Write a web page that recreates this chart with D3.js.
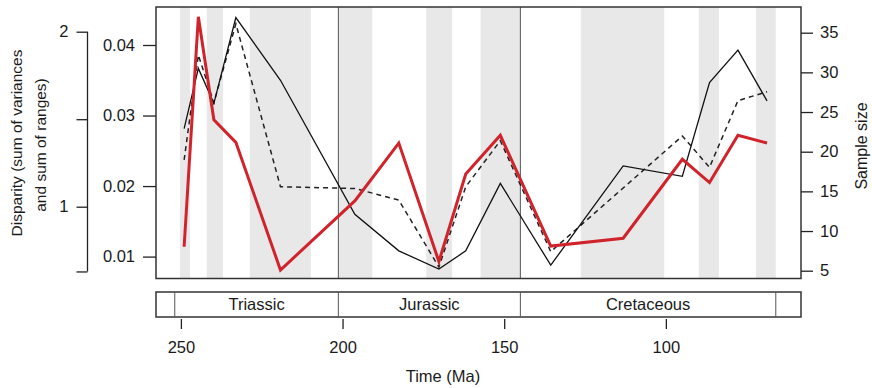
<!DOCTYPE html>
<html>
<head>
<meta charset="utf-8">
<script src="https://cdn.jsdelivr.net/npm/d3@7"></script>
<style>
  html, body { margin: 0; padding: 0; background: #fff; }
  svg text { font-family: "Liberation Sans", Arial, sans-serif; fill: #1a1a1a; }
</style>
</head>
<body>
<svg id="chart" width="872" height="388"></svg>
<script>
// ---- data ----
const ages = [249.0, 244.6, 239.8, 233.0, 219.2, 196.2, 182.6, 170.2, 161.9, 151.2, 135.6, 113.2, 94.9, 86.5, 77.7, 68.7];
const sumVariances = [0.0114, 0.0440, 0.0294, 0.0262, 0.0081, 0.0179, 0.0261, 0.0093, 0.0217, 0.0272, 0.0115, 0.0126, 0.0238, 0.0205, 0.0272, 0.0261];
const sumRanges = [1.267, 1.867, 1.593, 2.045, 1.114, 1.104, 1.038, 0.655, 1.114, 1.377, 0.743, 1.107, 1.404, 1.225, 1.606, 1.657];
const sampleSize = [22.9, 30.5, 26.1, 36.9, 29.0, 12.1, 7.5, 5.2, 7.5, 16.0, 5.7, 18.2, 16.9, 28.7, 32.8, 26.4];

const stageBands = [[250.3, 247.2], [242.0, 237.0], [228.7, 209.8], [201.3, 190.8], [174.1, 166.1], [157.3, 145.0], [126.3, 100.5], [89.8, 83.6], [72.1, 66.0]];
const periodBoundaries = [251.9, 201.3, 145.0, 66.0];
const periodNames = ["", "Triassic", "Jurassic", "Cretaceous", ""];
const periodLines = [201.3, 145.0];

const timeTicks = [250, 200, 150, 100];
const varianceTicks = [0.01, 0.02, 0.03, 0.04];
const rangeTicks = [0.63, 1, 1.5, 2];
const rangeTickLabels = ["", "1", "", "2"];
const sampleTicks = [5, 10, 15, 20, 25, 30, 35];

// ---- layout ----
const L = 156, R = 801, T = 7, B = 278.5;
const svg = d3.select("#chart");

const x = d3.scaleLinear().domain([257.7, 58.2]).range([L, R]);
const yVar = d3.scaleLinear().domain([0.01, 0.04]).range([256.6, 45]);
const yRange = d3.scaleLinear().domain([1, 2]).range([206.7, 31.7]);
const ySample = d3.scaleLinear().domain([5, 35]).range([270.7, 32.7]);

// clip
svg.append("defs").append("clipPath").attr("id", "plotclip")
  .append("rect").attr("x", L).attr("y", T).attr("width", R - L).attr("height", B - T);

const plot = svg.append("g").attr("clip-path", "url(#plotclip)");

// stage bands
plot.selectAll("rect.band").data(stageBands).join("rect")
  .attr("class", "band")
  .attr("x", d => x(d[0]))
  .attr("width", d => x(d[1]) - x(d[0]))
  .attr("y", T).attr("height", B - T)
  .attr("fill", "#e8e8e8");

// period boundary lines
plot.selectAll("line.per").data(periodLines).join("line")
  .attr("x1", d => x(d)).attr("x2", d => x(d))
  .attr("y1", T).attr("y2", B)
  .attr("stroke", "#555").attr("stroke-width", 1);

const idx = d3.range(ages.length);
const lineRange = d3.line().x(i => x(ages[i])).y(i => yRange(sumRanges[i]));
const lineSample = d3.line().x(i => x(ages[i])).y(i => ySample(sampleSize[i]));
const lineVar = d3.line().x(i => x(ages[i])).y(i => yVar(sumVariances[i]));

plot.append("path").attr("d", lineRange(idx))
  .attr("fill", "none").attr("stroke", "#222").attr("stroke-width", 1.5)
  .attr("stroke-dasharray", "5,4");
plot.append("path").attr("d", lineSample(idx))
  .attr("fill", "none").attr("stroke", "#111").attr("stroke-width", 1.3);
plot.append("path").attr("d", lineVar(idx))
  .attr("fill", "none").attr("stroke", "#d0232b").attr("stroke-width", 3)
  .attr("stroke-linejoin", "miter");

// plot border
svg.append("rect").attr("x", L).attr("y", T).attr("width", R - L).attr("height", B - T)
  .attr("fill", "none").attr("stroke", "#333").attr("stroke-width", 1.5);

// inner left axis (sum of variances)
const axVar = svg.append("g").attr("transform", `translate(${L},0)`)
  .call(d3.axisLeft(yVar).tickValues(varianceTicks).tickSize(13).tickPadding(8)
    .tickFormat(d3.format(".2f")));
axVar.select(".domain").remove();

// outer left axis (sum of ranges)
const axR = svg.append("g").attr("transform", "translate(87.5,0)")
  .call(d3.axisLeft(yRange).tickValues(rangeTicks).tickSize(11).tickPadding(8)
    .tickFormat((d, i) => rangeTickLabels[i]));
axR.select(".domain").remove();
axR.append("line").attr("x1", 0).attr("x2", 0)
  .attr("y1", yRange(d3.min(rangeTicks))).attr("y2", yRange(d3.max(rangeTicks)))
  .attr("stroke", "#222").attr("stroke-width", 1.3);

// right axis (sample size)
const axS = svg.append("g").attr("transform", `translate(${R},0)`)
  .call(d3.axisRight(ySample).tickValues(sampleTicks).tickSize(12).tickPadding(7));
axS.select(".domain").remove();

[axVar, axR, axS].forEach(g => {
  g.selectAll(".tick line").attr("stroke", "#222").attr("stroke-width", 1.3);
  g.selectAll(".tick text").attr("font-size", "16.5px").attr("font-family", "Liberation Sans, Arial, sans-serif").attr("fill", "#1a1a1a");
});

// time scale bar
const barTop = 292, barBot = 317;
const tsb = svg.append("g");
tsb.append("rect").attr("x", x(257.7)).attr("y", barTop)
  .attr("width", x(58.2) - x(257.7)).attr("height", barBot - barTop)
  .attr("fill", "none").attr("stroke", "#333").attr("stroke-width", 1.5);
tsb.selectAll("line.pb").data(periodBoundaries).join("line")
  .attr("x1", d => x(d)).attr("x2", d => x(d))
  .attr("y1", barTop).attr("y2", barBot)
  .attr("stroke", "#555").attr("stroke-width", 1);
const edges = [257.7, ...periodBoundaries, 58.2];
tsb.selectAll("text.pn").data(periodNames).join("text")
  .attr("x", (d, i) => (x(edges[i]) + x(edges[i + 1])) / 2)
  .attr("y", (barTop + barBot) / 2)
  .attr("dy", "0.35em")
  .attr("text-anchor", "middle")
  .attr("font-size", "16.5px")
  .text(d => d);

// bottom time axis
const axT = svg.append("g").attr("transform", "translate(0,319)")
  .call(d3.axisBottom(x).tickValues(timeTicks).tickSize(10).tickPadding(12));
axT.select(".domain").remove();
axT.selectAll(".tick line").attr("stroke", "#222").attr("stroke-width", 1.3);
axT.selectAll(".tick text").attr("font-size", "16.5px").attr("font-family", "Liberation Sans, Arial, sans-serif").attr("fill", "#1a1a1a");

// titles
svg.append("text").attr("x", 443).attr("y", 382).attr("text-anchor", "middle")
  .attr("font-size", "16.5px").text("Time (Ma)");

svg.append("text").attr("transform", "translate(22,143) rotate(-90)")
  .attr("text-anchor", "middle").attr("font-size", "15.5px")
  .text("Disparity (sum of variances");
svg.append("text").attr("transform", "translate(46,145) rotate(-90)")
  .attr("text-anchor", "middle").attr("font-size", "15.5px")
  .text("and sum of ranges)");

svg.append("text").attr("transform", "translate(867,146) rotate(-90)")
  .attr("text-anchor", "middle").attr("font-size", "16px")
  .text("Sample size");
</script>
</body>
</html>
